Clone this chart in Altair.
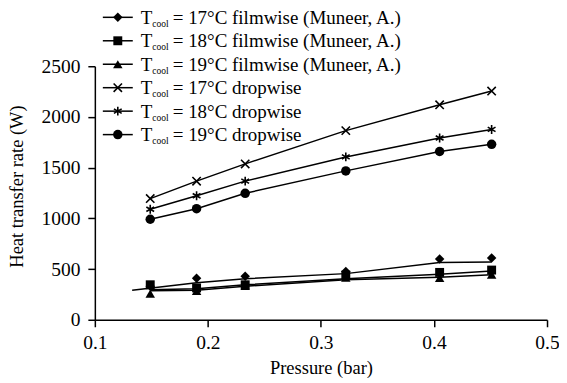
import altair as alt
import pandas as pd

# ---- data ----
pressure = [0.149, 0.19, 0.233, 0.322, 0.405, 0.451]
drop17 = [1195, 1367, 1537, 1865, 2120, 2255]
drop18 = [1090, 1223, 1367, 1606, 1792, 1877]
drop19 = [991, 1095, 1247, 1468, 1659, 1730]
film17 = [330, 410, 430, 475, 600, 610]
film18 = [345, 314, 345, 440, 467, 490]
film19 = [258, 285, 335, 415, 412, 445]

# filmwise connecting lines (drawn slightly apart from the markers in the source)
film17_line_p = [0.133, 0.19, 0.233, 0.322, 0.405, 0.451]
film17_line = [290, 365, 405, 455, 565, 570]
film_line_p = [0.149, 0.19, 0.233, 0.322, 0.405, 0.451]
film18_line = [295, 305, 345, 405, 450, 480]
film19_line = [285, 290, 330, 395, 420, 445]

series = ["17film", "18film", "19film", "17drop", "18drop", "19drop"]
legend_rest = [
    "= 17°C filmwise (Muneer, A.)",
    "= 18°C filmwise (Muneer, A.)",
    "= 19°C filmwise (Muneer, A.)",
    "= 17°C dropwise",
    "= 18°C dropwise",
    "= 19°C dropwise",
]

X_PATH = "M-1,-1L1,1M-1,1L1,-1"
STAR_PATH = "M0,-1L0,1M-0.87,-0.5L0.87,0.5M-0.87,0.5L0.87,-0.5"
shapes = ["diamond", "square", "triangle-up", X_PATH, STAR_PATH, "circle"]
filled = [True, True, True, False, False, True]
sizes = [90, 80, 90, 70, 80, 90]

# ---- tables ----
def long(name, xs, ys):
    return pd.DataFrame({"p": xs, "q": ys, "s": name})

markers = pd.concat([
    long("17film", pressure, film17),
    long("18film", pressure, film18),
    long("19film", pressure, film19),
    long("17drop", pressure, drop17),
    long("18drop", pressure, drop18),
    long("19drop", pressure, drop19),
])
lines = pd.concat([
    long("17film", film17_line_p, film17_line),
    long("18film", film_line_p, film18_line),
    long("19film", film_line_p, film19_line),
    long("17drop", pressure, drop17),
    long("18drop", pressure, drop18),
    long("19drop", pressure, drop19),
])

FONT = "Liberation Serif"
xsc = alt.Scale(domain=[0.1, 0.5], nice=False, zero=False)
ysc = alt.Scale(domain=[0, 2500], nice=False)

X = alt.X("p:Q", scale=xsc, title="Pressure (bar)",
          axis=alt.Axis(values=[0.1, 0.2, 0.3, 0.4, 0.5], format=".1f",
                        labelFont=FONT, titleFont=FONT))
Y = alt.Y("q:Q", scale=ysc, title="Heat transfer rate (W)",
          axis=alt.Axis(values=[0, 500, 1000, 1500, 2000, 2500], format="d",
                        labelFont=FONT, titleFont=FONT,
                        titleX=-78, titleY=120, titleBaseline="middle"))

line_layer = alt.Chart(lines).mark_line(color="black", strokeWidth=1.5).encode(
    x=X, y=Y, detail="s:N")

point_layers = []
for name, shp, fl, sz in zip(series, shapes, filled, sizes):
    d = markers[markers["s"] == name]
    if fl:
        m = alt.Chart(d).mark_point(shape=shp, filled=True, color="black",
                                    size=sz, opacity=1)
    else:
        m = alt.Chart(d).mark_point(shape=shp, filled=False, color="black",
                                    size=sz, strokeWidth=1.6, opacity=1)
    point_layers.append(m.encode(x=X, y=Y))

# ---- manual legend (subscripted "cool") ----
leg_layers = []
row0 = -49
step = 23.5
dummy = pd.DataFrame({"a": [0]})
for i, (shp, fl, sz, rest) in enumerate(zip(shapes, filled, sizes, legend_rest)):
    yc = row0 + step * i
    base = alt.Chart(dummy)
    leg_layers.append(base.mark_rule(color="black", strokeWidth=1.5).encode(
        x=alt.value(8), x2=alt.value(38), y=alt.value(yc)))
    if fl:
        pm = base.mark_point(shape=shp, filled=True, color="black", size=sz, opacity=1)
    else:
        pm = base.mark_point(shape=shp, filled=False, color="black", size=sz,
                             strokeWidth=1.6, opacity=1)
    leg_layers.append(pm.encode(x=alt.value(23), y=alt.value(yc)))
    leg_layers.append(base.mark_text(text="T", font=FONT, fontSize=19, align="left",
                                     baseline="alphabetic", color="black").encode(
        x=alt.value(46), y=alt.value(yc + 6.5)))
    leg_layers.append(base.mark_text(text="cool", font=FONT, fontSize=9.5, align="left",
                                     baseline="alphabetic", color="black").encode(
        x=alt.value(57.5), y=alt.value(yc + 9.5)))
    leg_layers.append(base.mark_text(text=rest, font=FONT, fontSize=19, align="left",
                                     baseline="alphabetic", color="black").encode(
        x=alt.value(78), y=alt.value(yc + 6.5)))

chart = alt.layer(line_layer, *point_layers, *leg_layers).properties(
    width=453, height=254,
    autosize=alt.AutoSizeParams(type="none"),
    padding={"left": 87, "top": 58, "right": 12, "bottom": 60},
).configure(font=FONT).configure_view(stroke=None, clip=False).configure_axis(
    grid=False,
    domainColor="black", domainWidth=1.5,
    tickColor="black", tickWidth=1.5, tickSize=7,
    labelFont=FONT, labelFontSize=19.5, labelColor="black", labelPadding=7,
    titleFont=FONT, titleFontSize=18.5, titleColor="black", titleFontWeight="normal",
    labelFlush=False,
).configure_axisX(titlePadding=6).configure_axisY(labelPadding=8)

chart.save("out.html", embed_options={"renderer": "svg", "actions": False})
